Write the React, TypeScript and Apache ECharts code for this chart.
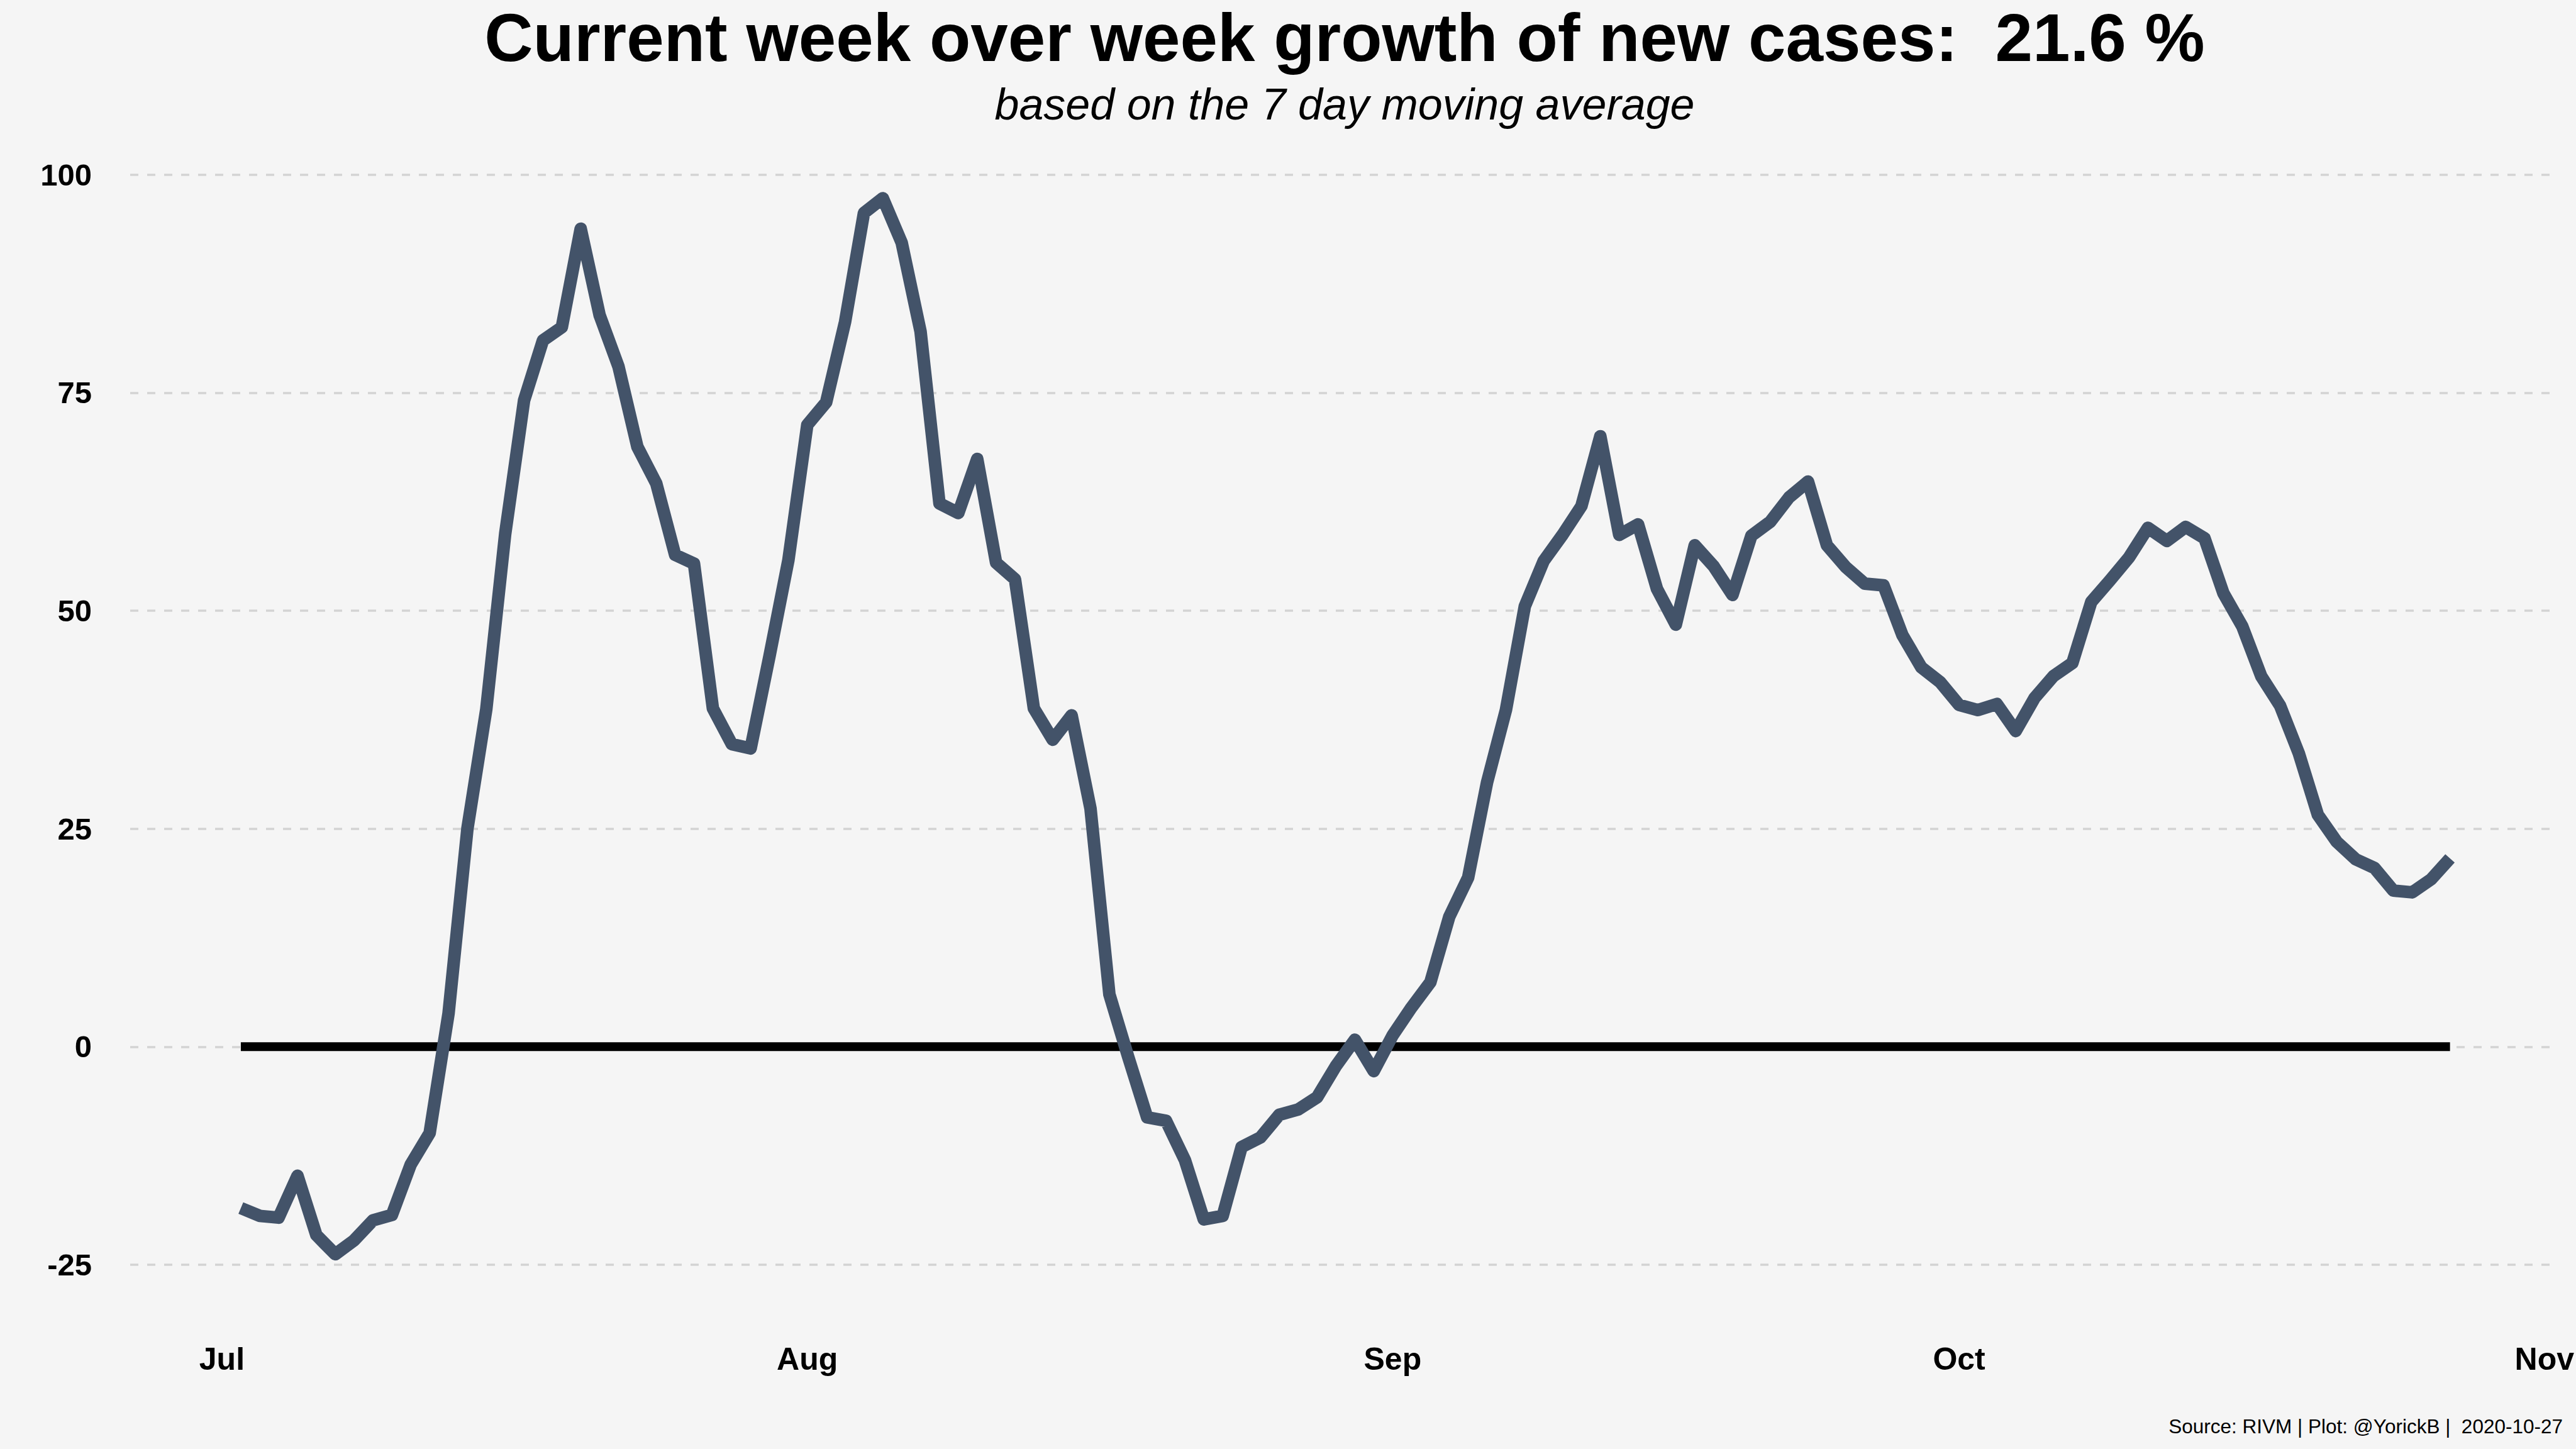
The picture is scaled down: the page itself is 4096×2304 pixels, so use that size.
import React, { useEffect, useRef } from "react";
import * as echarts from "echarts";

// Week-over-week growth (%) of the 7-day moving average, daily from 2020-07-02 to 2020-10-27
const growth: number[] = [
  -18.5, -19.4, -19.6, -14.8, -21.6, -23.8, -22.2, -19.9, -19.3, -13.5,
  -9.9, 3.8, 25.0, 38.7, 58.8, 74.1, 81.0, 82.5, 93.8, 83.9,
  78.0, 68.8, 64.6, 56.4, 55.4, 38.8, 34.7, 34.2, 44.8, 55.8,
  71.3, 73.9, 83.1, 95.6, 97.3, 92.2, 82.0, 62.3, 61.2, 67.4,
  55.5, 53.6, 38.8, 35.2, 38.0, 27.3, 6.0, -1.2, -8.1, -8.5,
  -13.0, -19.8, -19.4, -11.5, -10.4, -7.8, -7.2, -5.8, -2.2, 0.8,
  -2.8, 1.3, 4.5, 7.4, 14.9, 19.4, 30.3, 38.6, 50.5, 55.7,
  58.7, 62.0, 70.0, 58.7, 59.9, 52.5, 48.4, 57.5, 55.1, 51.8,
  58.6, 60.2, 63.0, 64.8, 57.5, 55.0, 53.1, 52.9, 47.2, 43.5,
  41.8, 39.2, 38.6, 39.3, 36.2, 40.0, 42.5, 44.0, 51.0, 53.5,
  56.1, 59.5, 58.0, 59.6, 58.3, 52.0, 48.2, 42.5, 39.1, 33.6,
  26.6, 23.5, 21.5, 20.5, 17.9, 17.7, 19.2, 21.6,
];

// day offset (from 2020-07-01) of the first value
const firstDayOffset = 1;

// x tick labels (month starts, as day offsets from 2020-07-01)
const monthLabels = ["Jul", "Aug", "Sep", "Oct", "Nov"];
const monthOffsets = [0, 31, 62, 92, 123];

// y ticks
const yMin = -25;
const yMax = 100;
const yStep = 25;

const titleText = "Current week over week growth of new cases:  21.6 %";
const subtitleText = "based on the 7 day moving average";
const captionText = "Source: RIVM | Plot: @YorickB |  2020-10-27";

const FONT = "'Liberation Sans', Arial, Helvetica, sans-serif";

export default function App() {
  const ref = useRef<HTMLDivElement>(null);

  useEffect(() => {
    if (!ref.current) return;
    const chart = echarts.init(ref.current, null, { renderer: "svg" });
    const lineData = growth.map((v, i) => [firstDayOffset + i, v]);
    const lastDay = firstDayOffset + growth.length - 1;
    const zeroData = [
      [firstDayOffset, 0],
      [lastDay, 0],
    ];

    chart.setOption({
      animation: false,
      backgroundColor: "#f5f5f5",
      textStyle: { fontFamily: FONT },
      title: [
        {
          text: titleText,
          left: 2138,
          top: 6,
          padding: 0,
          textAlign: "center",
          textStyle: { fontFamily: FONT, fontSize: 107, fontWeight: "bold", color: "#000" },
        },
        {
          text: subtitleText,
          left: 2138,
          top: 131,
          padding: 0,
          textAlign: "center",
          textStyle: { fontFamily: FONT, fontSize: 70, fontStyle: "italic", fontWeight: "normal", color: "#000" },
        },
        {
          text: captionText,
          right: 21,
          top: 2252,
          padding: 0,
          textStyle: { fontFamily: FONT, fontSize: 31.5, fontWeight: "normal", color: "#000" },
        },
      ],
      grid: { left: 207, right: 26, top: 277.7, bottom: 293, containLabel: false },
      xAxis: {
        type: "value",
        min: -4.86,
        max: 123.65,
        axisLine: { show: false },
        axisTick: { show: false },
        splitLine: { show: false },
        axisLabel: {
          customValues: monthOffsets,
          formatter: (v: number) => {
            const idx = monthOffsets.indexOf(Math.round(v));
            return idx >= 0 ? monthLabels[idx] : "";
          },
          margin: 150,
          verticalAlign: "middle",
          fontFamily: FONT,
          fontSize: 50,
          fontWeight: "bold",
          color: "#000",
          showMinLabel: true,
          showMaxLabel: true,
        },
      },
      yAxis: {
        type: "value",
        min: yMin,
        max: yMax,
        interval: yStep,
        axisLine: { show: false },
        axisTick: { show: false },
        axisLabel: {
          margin: 61,
          fontFamily: FONT,
          fontSize: 49,
          fontWeight: "bold",
          color: "#000",
        },
        splitLine: {
          show: true,
          lineStyle: { color: "#d3d3d3", width: 3.5, type: [13, 14] },
        },
      },
      series: [
        {
          type: "line",
          data: zeroData,
          showSymbol: false,
          symbol: "none",
          clip: false,
          z: 2,
          lineStyle: { color: "#000000", width: 14, cap: "butt" },
          silent: true,
        },
        {
          type: "line",
          data: lineData,
          showSymbol: false,
          symbol: "none",
          clip: false,
          z: 3,
          lineStyle: { color: "#435369", width: 20, cap: "butt", join: "round" },
          silent: true,
        },
      ],
    });

    return () => chart.dispose();
  }, []);

  return (
    <div
      ref={ref}
      style={{ position: "absolute", left: 0, top: 0, width: 4096, height: 2304 }}
    />
  );
}
